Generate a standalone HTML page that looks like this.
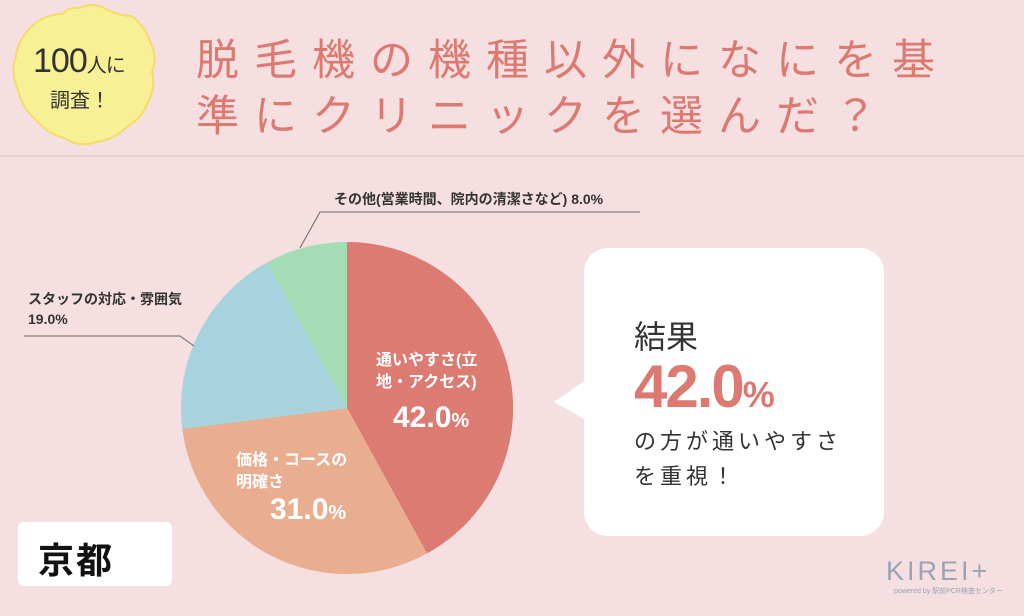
<!DOCTYPE html>
<html><head><meta charset="utf-8"><style>
body{margin:0;width:1024px;height:616px;overflow:hidden;background:#f5dfe0;font-family:"Liberation Sans","Noto Sans CJK JP",sans-serif;position:relative}
.hdr{position:absolute;left:0;top:0;width:1024px;height:155px;background:#f6dfe0;border-bottom:2px solid #ecd0d0}
.t{position:absolute;left:196px;color:#dc7a72;font-size:43px;letter-spacing:15px;white-space:nowrap;line-height:1}
.lbl{position:absolute;font-size:14px;font-weight:bold;color:#333;white-space:nowrap;line-height:1.4}
.in{position:absolute;color:#fff;font-weight:bold;white-space:nowrap;line-height:1.35}
</style></head><body>
<div class="hdr"></div>
<svg style="position:absolute;left:0;top:0" width="1024" height="616">
<path d="M80,8 Q92,2 104,8 Q118,16 132,16 Q146,28 150,42 Q158,56 152,72 Q156,88 148,102 Q142,118 128,126 Q114,140 96,142 Q80,148 64,138 Q48,134 36,120 Q22,108 18,90 Q10,72 16,56 Q18,40 32,26 Q46,14 62,14 Q70,6 80,8Z" fill="#f8f095" stroke="#f5dc6a" stroke-width="2"/>
<path d="M347,408 L347,242 A166,166 0 0 1 427,553.5Z" fill="#dc7b72"/>
<path d="M347,408 L427,553.5 A166,166 0 0 1 182.3,428.8Z" fill="#e9ae8f"/>
<path d="M347,408 L182.3,428.8 A166,166 0 0 1 267,262.5Z" fill="#a7d3df"/>
<path d="M347,408 L267,262.5 A166,166 0 0 1 347,242Z" fill="#a3dcb5"/>
<polyline points="300,248 320,212 640,212" fill="none" stroke="#666" stroke-width="1"/>
<polyline points="194,346 180,336 24,336" fill="none" stroke="#666" stroke-width="1"/>
<rect x="584" y="248" width="300" height="288" rx="24" fill="#fff"/>
<path d="M586,380 L554,402 L586,420Z" fill="#fff"/>
<rect x="18" y="522" width="154" height="64" rx="6" fill="#fff"/>
</svg>
<div style="position:absolute;left:33px;top:42px;font-size:34px;color:#333;letter-spacing:-1px">100<span style="font-size:20px">人に</span></div>
<div style="position:absolute;left:50px;top:84px;font-size:20px;color:#333">調査！</div>
<div class="t" style="top:40px">脱毛機の機種以外になにを基</div>
<div class="t" style="top:96px">準にクリニックを選んだ？</div>
<div class="lbl" style="left:334px;top:190px">その他(営業時間、院内の清潔さなど) 8.0%</div>
<div class="lbl" style="left:28px;top:290px">スタッフの対応・雰囲気<br>19.0%</div>
<div class="in" style="left:376px;top:350px;font-size:16px">通いやすさ(立<br>地・アクセス)</div>
<div class="in" style="left:393px;top:398px;font-size:30px">42.0<span style="font-size:20px">%</span></div>
<div class="in" style="left:236px;top:450px;font-size:16px">価格・コースの<br>明確さ</div>
<div class="in" style="left:270px;top:490px;font-size:30px">31.0<span style="font-size:20px">%</span></div>
<div style="position:absolute;left:634px;top:312px;font-size:32px;color:#333">結果</div>
<div style="position:absolute;left:634px;top:352px;font-size:60px;color:#dc7a72;font-weight:bold;letter-spacing:-2px">42.0<span style="font-size:36px">%</span></div>
<div style="position:absolute;left:634px;top:424px;font-size:22px;color:#333;letter-spacing:4px;line-height:1.6">の方が通いやすさ<br>を重視！</div>
<div style="position:absolute;left:38px;top:532px;font-size:36px;color:#111;letter-spacing:2px;font-weight:bold">京都</div>
<div style="position:absolute;left:886px;top:556px;font-size:27px;color:#9aa4b4;letter-spacing:3px">KIREI+</div>
<div style="position:absolute;left:894px;top:586px;font-size:7px;color:#9aa4b4">powered by 駅前PCR検査センター</div>
</body></html>
